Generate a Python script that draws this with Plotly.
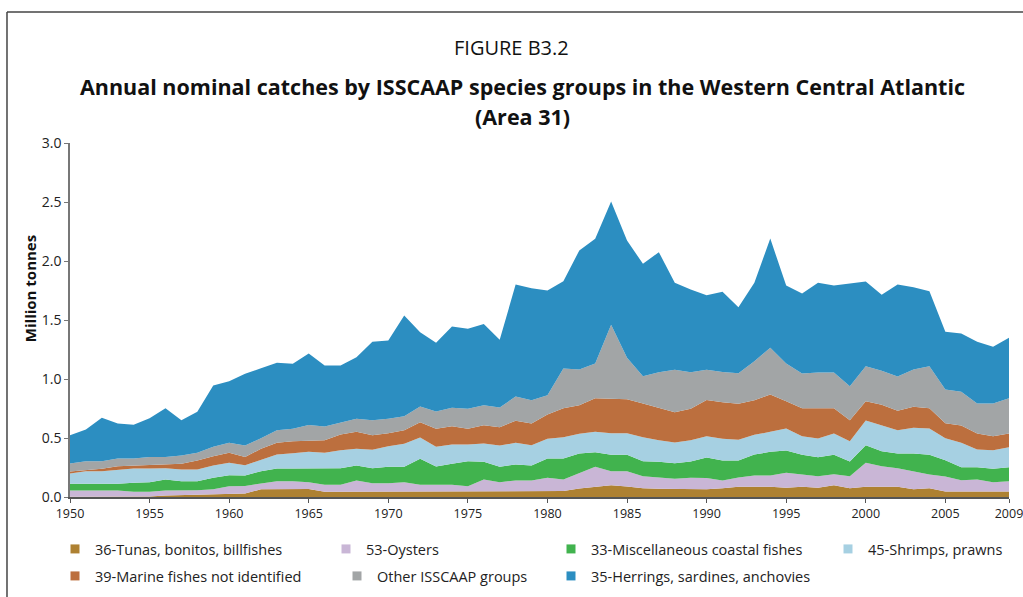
import plotly.graph_objects as go

years = list(range(1950, 2010))

tunas = [0.003, 0.003, 0.003, 0.003, 0.003, 0.005, 0.012, 0.015, 0.020, 0.025,
         0.030, 0.030, 0.065, 0.065, 0.065, 0.067, 0.044, 0.044, 0.044, 0.044,
         0.044, 0.044, 0.044, 0.050, 0.050, 0.050, 0.050, 0.050, 0.044, 0.044,
         0.048, 0.050, 0.072, 0.086, 0.100, 0.090, 0.075, 0.070, 0.070, 0.070,
         0.065, 0.075, 0.086, 0.086, 0.086, 0.078, 0.086, 0.078, 0.100, 0.075,
         0.086, 0.086, 0.086, 0.065, 0.075, 0.046, 0.046, 0.046, 0.046, 0.046]
oysters = [0.052, 0.052, 0.052, 0.052, 0.041, 0.039, 0.043, 0.040, 0.038, 0.041,
           0.062, 0.064, 0.049, 0.069, 0.069, 0.058, 0.059, 0.059, 0.096, 0.073,
           0.073, 0.081, 0.059, 0.053, 0.053, 0.042, 0.098, 0.075, 0.096, 0.096,
           0.115, 0.098, 0.133, 0.170, 0.119, 0.129, 0.101, 0.093, 0.084, 0.093,
           0.095, 0.065, 0.079, 0.096, 0.096, 0.127, 0.107, 0.098, 0.093, 0.101,
           0.204, 0.175, 0.158, 0.154, 0.116, 0.128, 0.096, 0.102, 0.079, 0.088]
coastal = [0.057, 0.057, 0.057, 0.057, 0.076, 0.081, 0.093, 0.079, 0.076, 0.097,
           0.093, 0.088, 0.105, 0.107, 0.107, 0.119, 0.141, 0.141, 0.127, 0.127,
           0.139, 0.131, 0.221, 0.155, 0.178, 0.211, 0.150, 0.131, 0.135, 0.127,
           0.163, 0.178, 0.164, 0.124, 0.138, 0.138, 0.127, 0.135, 0.132, 0.137,
           0.175, 0.169, 0.144, 0.178, 0.201, 0.189, 0.164, 0.161, 0.164, 0.125,
           0.149, 0.127, 0.125, 0.150, 0.166, 0.138, 0.111, 0.105, 0.114, 0.119]
shrimps = [0.087, 0.107, 0.107, 0.121, 0.121, 0.116, 0.096, 0.099, 0.099, 0.104,
           0.105, 0.088, 0.093, 0.119, 0.130, 0.139, 0.130, 0.153, 0.141, 0.156,
           0.175, 0.195, 0.180, 0.167, 0.164, 0.142, 0.155, 0.180, 0.184, 0.172,
           0.167, 0.181, 0.166, 0.172, 0.184, 0.184, 0.204, 0.183, 0.176, 0.181,
           0.180, 0.184, 0.176, 0.167, 0.169, 0.186, 0.158, 0.159, 0.181, 0.172,
           0.209, 0.220, 0.197, 0.217, 0.223, 0.186, 0.206, 0.150, 0.158, 0.169]
marine_ni = [0.017, 0.008, 0.020, 0.028, 0.026, 0.026, 0.031, 0.048, 0.076, 0.079,
             0.084, 0.070, 0.096, 0.099, 0.102, 0.096, 0.107, 0.133, 0.144, 0.124,
             0.110, 0.115, 0.130, 0.153, 0.155, 0.133, 0.155, 0.156, 0.187, 0.184,
             0.206, 0.246, 0.243, 0.285, 0.291, 0.288, 0.285, 0.272, 0.257, 0.266,
             0.308, 0.311, 0.305, 0.293, 0.317, 0.232, 0.238, 0.257, 0.215, 0.178,
             0.164, 0.173, 0.164, 0.178, 0.173, 0.128, 0.147, 0.135, 0.118, 0.116]
other = [0.068, 0.077, 0.065, 0.065, 0.059, 0.073, 0.065, 0.071, 0.065, 0.079,
         0.085, 0.096, 0.090, 0.107, 0.105, 0.131, 0.116, 0.099, 0.111, 0.127,
         0.122, 0.119, 0.133, 0.147, 0.156, 0.169, 0.170, 0.166, 0.206, 0.197,
         0.164, 0.336, 0.302, 0.294, 0.627, 0.351, 0.232, 0.305, 0.359, 0.311,
         0.255, 0.256, 0.259, 0.331, 0.395, 0.319, 0.294, 0.302, 0.302, 0.288,
         0.297, 0.288, 0.291, 0.316, 0.356, 0.285, 0.285, 0.254, 0.277, 0.299]
herrings = [0.240, 0.268, 0.367, 0.297, 0.286, 0.328, 0.413, 0.299, 0.348, 0.520,
            0.522, 0.608, 0.594, 0.571, 0.551, 0.607, 0.517, 0.485, 0.522, 0.664,
            0.663, 0.853, 0.630, 0.582, 0.689, 0.678, 0.689, 0.574, 0.948, 0.950,
            0.887, 0.740, 1.009, 1.057, 1.045, 0.994, 0.952, 1.017, 0.737, 0.700,
            0.632, 0.679, 0.560, 0.664, 0.926, 0.661, 0.678, 0.760, 0.737, 0.867,
            0.717, 0.644, 0.779, 0.698, 0.635, 0.489, 0.495, 0.523, 0.481, 0.512]

x_ticks = [1950, 1955, 1960, 1965, 1970, 1975, 1980, 1985, 1990, 1995, 2000, 2005, 2009]

# stacking order, bottom to top: (name, values, colour, legend text x px, legend row)
series = [
    ("36-Tunas, bonitos, billfishes", tunas, "#AE8132", 95, 0),
    ("53-Oysters", oysters, "#C9B6D6", 366, 0),
    ("33-Miscellaneous coastal fishes", coastal, "#41B34E", 591, 0),
    ("45-Shrimps, prawns", shrimps, "#A6D0E2", 868, 0),
    ("39-Marine fishes not identified", marine_ni, "#BC6F3E", 95, 1),
    ("Other ISSCAAP groups", other, "#A2A5A6", 377, 1),
    ("35-Herrings, sardines, anchovies", herrings, "#2C8EC1", 591, 1),
]

font = "Open Sans, sans-serif"
row_top = [533, 560]   # pixel top of each legend row

fig = go.Figure()
for name, vals, col, tx, row in series:
    fig.add_trace(go.Scatter(
        x=years, y=vals, name=name, mode="lines",
        stackgroup="one", line=dict(width=0, color=col),
        fillcolor=col, showlegend=False, hoverinfo="x+y+name"
    ))

# one tiny legend per entry so each can sit exactly where the original puts it
legends = {}
for i, (name, vals, col, tx, row) in enumerate(series):
    key = "legend" if i == 0 else f"legend{i + 1}"
    fig.add_trace(go.Scatter(
        x=[None], y=[None], name=name, mode="markers",
        marker=dict(symbol="square", size=9, color=col),
        legend=key, showlegend=True
    ))
    legends[key] = dict(
        orientation="v", xanchor="left", yanchor="top",
        xref="paper", yref="container",
        x=(tx - 40 - 70) / 939, y=1 - row_top[row] / 597,
        font=dict(family=font, size=14.5, color="#222"),
        bgcolor="rgba(0,0,0,0)", itemwidth=30,
    )

fig.update_layout(
    width=1023, height=597,
    margin=dict(l=70, r=14, t=143, b=100),
    paper_bgcolor="white", plot_bgcolor="white",
    font=dict(family=font, size=14, color="#222"),
    showlegend=True,
    **legends,
    xaxis=dict(range=[1950, 2009], tickvals=x_ticks, showgrid=False, zeroline=False,
               showline=True, linecolor="#555", linewidth=2, automargin=False,
               ticks="outside", ticklen=4, tickcolor="#555", ticklabeloverflow="allow",
               tickfont=dict(family=font, size=12.5, color="#222")),
    yaxis=dict(range=[0, 3.0], dtick=0.5, tickformat=".1f", showgrid=False, zeroline=False,
               showline=True, linecolor="#777", linewidth=1.5, automargin=False,
               ticks="outside", ticklen=4, tickcolor="#777",
               tickfont=dict(family=font, size=14, color="#222")),
    annotations=[
        dict(text="FIGURE B3.2", x=0.4697, y=1.271, xref="paper", yref="paper",
             xanchor="center", yanchor="middle",
             showarrow=False, font=dict(family=font, size=20, color="#111")),
        dict(text="<b>Annual nominal catches by ISSCAAP species groups in the Western Central Atlantic</b>",
             x=0.4824, y=1.161, xref="paper", yref="paper", showarrow=False,
             xanchor="center", yanchor="middle",
             font=dict(family=font, size=21.5, color="#111")),
        dict(text="<b>(Area 31)</b>", x=0.4824, y=1.076, xref="paper", yref="paper",
             xanchor="center", yanchor="middle",
             showarrow=False, font=dict(family=font, size=21.5, color="#111")),
        dict(text="<b>Million tonnes</b>", x=-0.0426, y=0.59, xref="paper", yref="paper",
             xanchor="center", yanchor="middle",
             textangle=-90, showarrow=False, font=dict(family=font, size=15, color="#111")),
    ],
    shapes=[
        dict(type="line", xref="paper", yref="paper", x0=-0.0671, x1=1.02,
             y0=1.370, y1=1.370, line=dict(color="#444", width=1.5)),
        dict(type="line", xref="paper", yref="paper", x0=-0.0671, x1=-0.0671,
             y0=1.370, y1=-0.29, line=dict(color="#444", width=1.5)),
    ],
)

fig.write_html("out.html", config={"displayModeBar": False},
               post_script="document.body.style.margin='0';")
